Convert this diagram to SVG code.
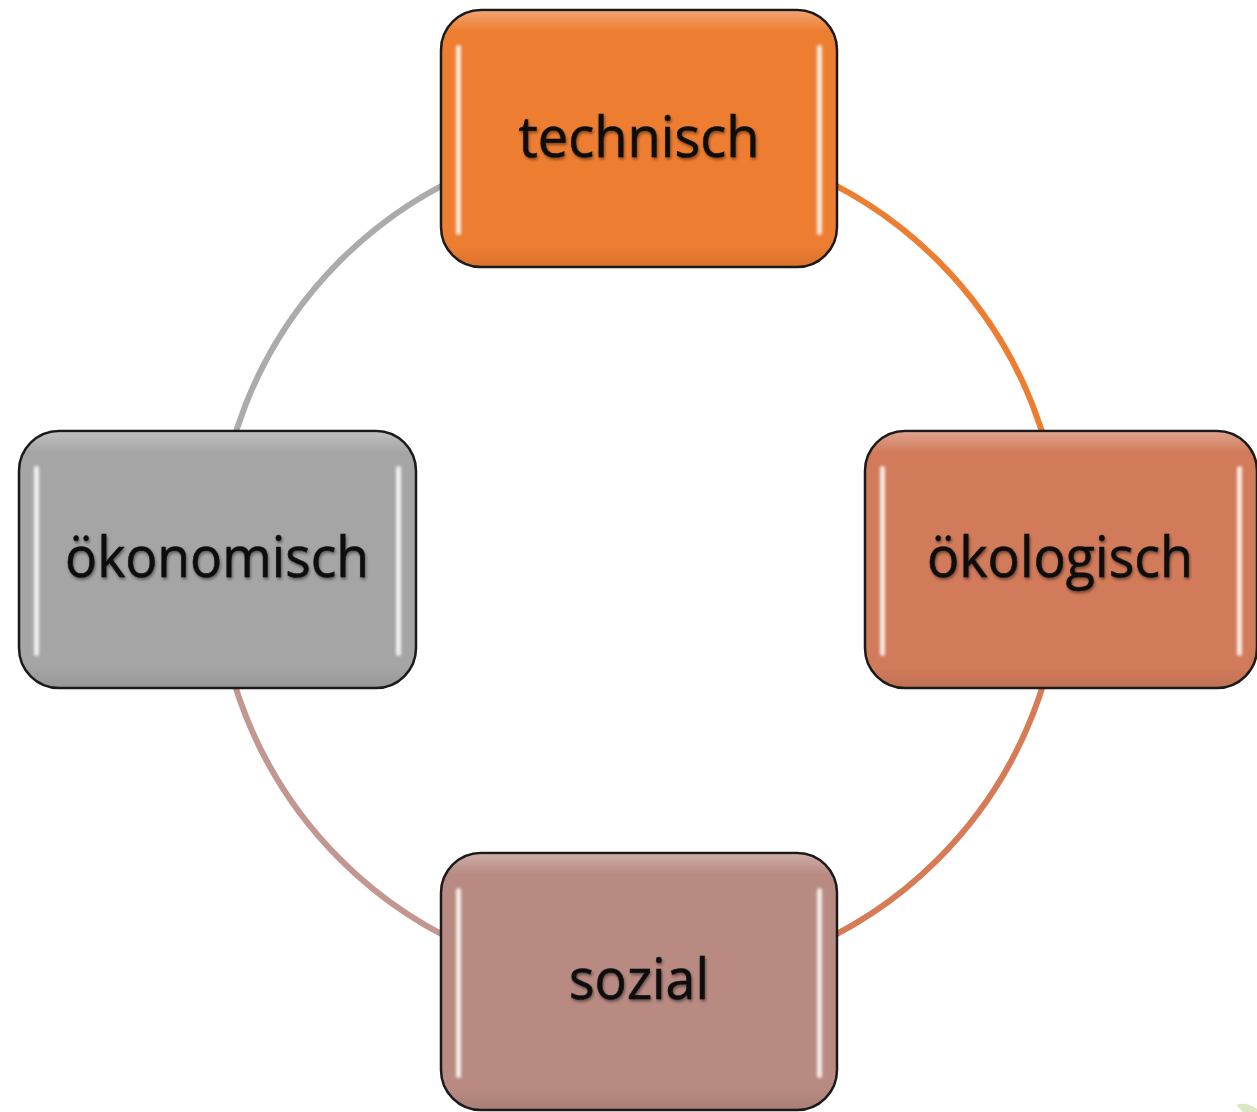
<svg xmlns="http://www.w3.org/2000/svg" width="1257" height="1112" viewBox="0 0 1257 1112">
  <defs>
    <style>
      .box { stroke: #1a1a1a; stroke-width: 2.5; }
      .lbl { font-family: "Open Sans", "Liberation Sans", sans-serif; font-size: 56px; fill: #111; stroke: #111; stroke-width: 0.6; text-anchor: middle; filter: url(#tshadow); }
      .arc { fill: none; stroke-width: 6; }
      .hl { fill: #ffffff; opacity: 0.85; filter: url(#blur); }
    </style>
    <filter id="blur" x="-50%" y="-10%" width="200%" height="120%">
      <feGaussianBlur stdDeviation="1.6"/>
    </filter>
    <filter id="tshadow" x="-10%" y="-20%" width="120%" height="150%">
      <feGaussianBlur in="SourceAlpha" stdDeviation="1.5"/>
      <feOffset dx="1" dy="2" result="s"/>
      <feComponentTransfer in="s" result="s2"><feFuncA type="linear" slope="0.45"/></feComponentTransfer>
      <feMerge><feMergeNode in="s2"/><feMergeNode in="SourceGraphic"/></feMerge>
    </filter>
    <linearGradient id="gloss" x1="0" y1="0" x2="0" y2="1">
      <stop offset="0" stop-color="#fff" stop-opacity="0.3"/>
      <stop offset="0.08" stop-color="#fff" stop-opacity="0"/>
      <stop offset="0.92" stop-color="#000" stop-opacity="0"/>
      <stop offset="1" stop-color="#000" stop-opacity="0.08"/>
    </linearGradient>
  </defs>

  <rect width="1257" height="1112" fill="#ffffff"/>

  <g id="connectors">
    <path class="arc" stroke="#ED7D31" d="M 639 137 A 423 423 0 0 1 1062 560"/>
    <path class="arc" stroke="#D67B55" d="M 1062 560 A 423 423 0 0 1 639 983"/>
    <path class="arc" stroke="#C29790" d="M 639 983 A 423 423 0 0 1 216 560"/>
    <path class="arc" stroke="#ABABAB" d="M 216 560 A 423 423 0 0 1 639 137"/>
  </g>

  <g id="node-technisch">
    <rect class="box" x="441" y="10" width="396" height="257" rx="40" fill="#ED7D31"/>
    <rect x="442" y="11" width="394" height="255" rx="39" fill="url(#gloss)"/>
    <rect class="hl" x="456" y="45" width="5" height="190" rx="2.5"/>
    <rect class="hl" x="817" y="45" width="5" height="190" rx="2.5"/>
    <text class="lbl" x="639" y="157" textLength="241" lengthAdjust="spacingAndGlyphs">technisch</text>
  </g>

  <g id="node-oekologisch">
    <rect class="box" x="865" y="431" width="392" height="257" rx="40" fill="#D17B5B"/>
    <rect x="866" y="432" width="390" height="255" rx="39" fill="url(#gloss)"/>
    <rect class="hl" x="880" y="466" width="5" height="190" rx="2.5"/>
    <rect class="hl" x="1237" y="466" width="5" height="190" rx="2.5"/>
    <text class="lbl" x="1060" y="577" textLength="266" lengthAdjust="spacingAndGlyphs">ökologisch</text>
  </g>

  <g id="node-oekonomisch">
    <rect class="box" x="19" y="431" width="397" height="257" rx="40" fill="#A5A5A5"/>
    <rect x="20" y="432" width="395" height="255" rx="39" fill="url(#gloss)"/>
    <rect class="hl" x="34" y="466" width="5" height="190" rx="2.5"/>
    <rect class="hl" x="396" y="466" width="5" height="190" rx="2.5"/>
    <text class="lbl" x="217" y="577" textLength="304" lengthAdjust="spacingAndGlyphs">ökonomisch</text>
  </g>

  <g id="node-sozial">
    <rect class="box" x="441" y="853" width="396" height="257" rx="40" fill="#B88A82"/>
    <rect x="442" y="854" width="394" height="255" rx="39" fill="url(#gloss)"/>
    <rect class="hl" x="456" y="888" width="5" height="190" rx="2.5"/>
    <rect class="hl" x="817" y="888" width="5" height="190" rx="2.5"/>
    <text class="lbl" x="639" y="999" textLength="140" lengthAdjust="spacingAndGlyphs">sozial</text>
  </g>

  <path d="M 1236 1105 Q 1246 1101 1257 1109 L 1257 1112 L 1243 1112 Z" fill="#c4d89c" opacity="0.6"/>
</svg>
